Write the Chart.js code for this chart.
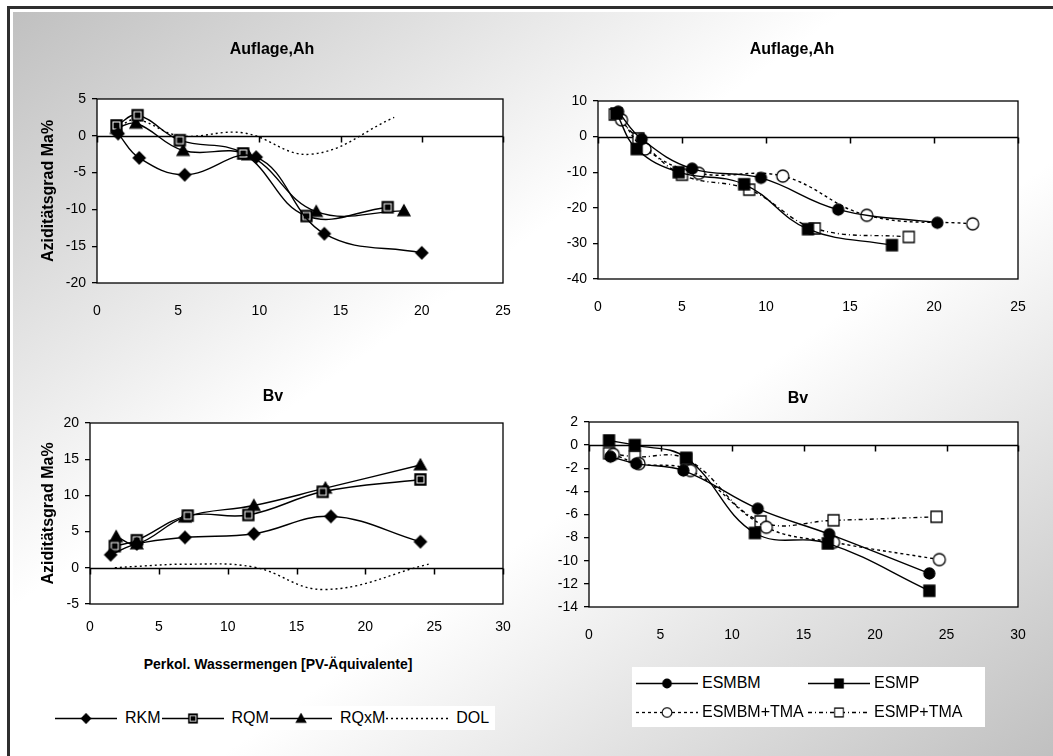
<!DOCTYPE html>
<html>
<head>
<meta charset="utf-8">
<script src="https://cdn.jsdelivr.net/npm/chart.js@4"></script>
<style>
    body { margin: 0; width: 1053px; height: 756px; overflow: hidden; background: #fff; font-family: "Liberation Sans", Arial, sans-serif; }
    #frame { position: absolute; left: 7px; top: 6px; width: 1100px; height: 800px; border-top: 3px solid #2e2e2e; border-left: 3px solid #2e2e2e; }
    #bg { position: absolute; left: 13px; top: 12px; width: 1040px; height: 744px;
          background: linear-gradient(to bottom right, #c0c0c0 0%, #fff 40%, #fff 60%, #c0c0c0 100%); }
    canvas.panel { position: absolute; }
    #xTitle { position: absolute; left: 100px; width: 356px; top: 656px; text-align: center; font-weight: bold; font-size: 14px; }
    .legend { position: absolute; background: #fff; font-size: 16px; }
    .legend .item { display: flex; align-items: center; }
    #legendLeft { left: 50px; top: 706px; width: 445px; height: 24px; display: flex; align-items: center; padding-left: 5px; box-sizing: border-box; }
    #legendLeft .item { margin-right: 1px; }
    #legendLeft .item span { margin-left: 8px; }
    #legendRight { left: 632px; top: 667px; width: 353px; height: 60px; display: grid; grid-template-columns: 172px 170px; padding: 2px 0 0 4px; box-sizing: border-box; }
    #legendRight .item { height: 28px; }
    #legendRight .item span { margin-left: 4px; }
</style>
</head>
<body>
<div id="frame"></div>
<div id="bg"></div>
<canvas class="panel" id="ahLeft" width="510" height="330" style="left:13px;top:12px"></canvas>
<canvas class="panel" id="ahRight" width="530" height="330" style="left:523px;top:12px"></canvas>
<canvas class="panel" id="bvLeft" width="510" height="310" style="left:13px;top:342px"></canvas>
<canvas class="panel" id="bvRight" width="530" height="310" style="left:523px;top:342px"></canvas>
<div id="xTitle">Perkol. Wassermengen [PV-Äquivalente]</div>
<div class="legend" id="legendLeft"></div>
<div class="legend" id="legendRight"></div>

<script>
// Auflage, Ah - linke Grafik
const ahRkmX  = [1.3, 2.6, 5.4, 9.8, 14.0, 20.0];
const ahRkmY  = [0.3, -3.0, -5.3, -2.9, -13.3, -15.9];
const ahRqmX  = [1.2, 2.5, 5.1, 9.0, 12.9, 17.9];
const ahRqmY  = [1.4, 2.8, -0.6, -2.4, -10.9, -9.7];
const ahRqxmX = [1.2, 2.4, 5.3, 9.3, 13.5, 18.9];
const ahRqxmY = [1.0, 1.7, -2.0, -2.6, -10.3, -10.2];
const ahDolX  = [1.2, 2.4, 5.1, 9.0, 13.2, 18.3];
const ahDolY  = [1.0, 2.2, 0.0, 0.4, -2.5, 2.5];

// Auflage, Ah - rechte Grafik
const ahEsmbmX    = [1.2, 2.6, 5.6, 9.7, 14.3, 20.2];
const ahEsmbmY    = [7.0, -0.7, -9.0, -11.6, -20.5, -24.2];
const ahEsmpX     = [1.1, 2.3, 4.8, 8.7, 12.5, 17.5];
const ahEsmpY     = [6.5, -3.5, -10.0, -13.4, -26.0, -30.5];
const ahEsmbmTmaX = [1.4, 2.8, 6.0, 11.0, 16.0, 22.3];
const ahEsmbmTmaY = [4.7, -3.5, -10.3, -11.1, -22.1, -24.5];
const ahEsmpTmaX  = [1.0, 2.4, 5.0, 9.0, 12.9, 18.5];
const ahEsmpTmaY  = [6.2, -0.5, -10.7, -14.9, -25.8, -28.2];

// Bv - linke Grafik
const bvRkmX  = [1.5, 3.4, 6.9, 11.9, 17.5, 24.0];
const bvRkmY  = [1.8, 3.3, 4.2, 4.7, 7.1, 3.6];
const bvRqmX  = [1.8, 3.4, 7.1, 11.5, 16.9, 24.0];
const bvRqmY  = [3.0, 3.8, 7.2, 7.3, 10.5, 12.2];
const bvRqxmX = [1.9, 3.4, 6.9, 11.9, 17.1, 24.0];
const bvRqxmY = [4.3, 3.3, 7.0, 8.6, 11.0, 14.2];
const bvDolX  = [1.8, 3.4, 7.0, 11.9, 17.0, 24.6];
const bvDolY  = [0.0, 0.2, 0.5, 0.1, -3.0, 0.5];

// Bv - rechte Grafik
const bvEsmbmX    = [1.5, 3.3, 6.6, 11.8, 16.8, 23.8];
const bvEsmbmY    = [-1.0, -1.6, -2.2, -5.5, -7.7, -11.1];
const bvEsmpX     = [1.4, 3.2, 6.8, 11.6, 16.7, 23.8];
const bvEsmpY     = [0.4, 0.0, -1.1, -7.6, -8.5, -12.6];
const bvEsmbmTmaX = [1.7, 3.5, 7.1, 12.4, 17.1, 24.5];
const bvEsmbmTmaY = [-0.8, -1.6, -2.2, -7.1, -8.4, -9.9];
const bvEsmpTmaX  = [1.4, 3.2, 6.8, 12.0, 17.1, 24.3];
const bvEsmpTmaY  = [-0.7, -1.0, -1.2, -6.6, -6.5, -6.2];

const titelAh = "Auflage,Ah";
const titelBv = "Bv";
const titelY = "Aziditätsgrad Ma%";
const FONT = '"Liberation Sans", Arial, sans-serif';

function marker(shape, fill, size) {
    const c = document.createElement("canvas");
    c.width = c.height = size + 4;
    const g = c.getContext("2d");
    const m = c.width / 2, h = size / 2;
    g.lineWidth = 1.3;
    g.strokeStyle = "#000";
    g.fillStyle = fill;
    g.beginPath();
    if (shape === "diamond") {
        g.moveTo(m, m - h); g.lineTo(m + h, m); g.lineTo(m, m + h); g.lineTo(m - h, m); g.closePath();
    } else if (shape === "square" || shape === "square2") {
        g.rect(m - h, m - h, size, size);
    } else if (shape === "triangle") {
        g.moveTo(m, m - h); g.lineTo(m + h, m + h * 0.8); g.lineTo(m - h, m + h * 0.8); g.closePath();
    } else {
        g.arc(m, m, h, 0, Math.PI * 2);
    }
    g.fill();
    g.stroke();
    if (shape === "square2") {
        g.strokeStyle = "#fff";
        g.lineWidth = 1;
        g.strokeRect(m - h + 2, m - h + 2, size - 4, size - 4);
    }
    return c;
}

const mkRkm = marker("diamond", "#000", 12);
const mkRqm = marker("square2", "#000", 11);
const mkRqxm = marker("triangle", "#000", 12);
const mkEsmbm = marker("circle", "#000", 11);
const mkEsmp = marker("square", "#000", 11);
const mkEsmbmTma = marker("circle", "#fff", 12);
const mkEsmpTma = marker("square", "#fff", 11);

function punkte(xs, ys) {
    return xs.map((x, i) => ({ x: x, y: ys[i] }));
}

function serie(label, xs, ys, mk, dash) {
    return {
        label: label,
        data: punkte(xs, ys),
        showLine: true,
        tension: 0.4,
        borderColor: "#000",
        borderWidth: 1.4,
        borderDash: dash || [],
        pointStyle: mk || false,
        pointRadius: mk ? 6 : 0,
        backgroundColor: "#000"
    };
}

// Rahmen, weisse Flaeche und Nulllinie mit Teilstrichen
const rahmen = {
    id: "rahmen",
    afterLayout(chart) {
        // schmale y-Achse ohne Titel: Beschriftung nicht abschneiden
        const y = chart.scales.y;
        if (!y.options.title.display) y.left = 0;
    },
    beforeDraw(chart) {
        const { ctx, chartArea: a } = chart;
        ctx.save();
        ctx.fillStyle = "#fff";
        ctx.fillRect(a.left, a.top, a.width, a.height);
        ctx.restore();
    },
    beforeDatasetsDraw(chart) {
        const { ctx, chartArea: a, scales: { x, y } } = chart;
        const y0 = Math.round(y.getPixelForValue(0)) + 0.5;
        ctx.save();
        ctx.strokeStyle = "#000";
        ctx.lineWidth = 1.5;
        ctx.beginPath();
        ctx.moveTo(a.left, y0);
        ctx.lineTo(a.right, y0);
        x.ticks.forEach(t => {
            const px = Math.round(x.getPixelForValue(t.value)) + 0.5;
            ctx.moveTo(px, y0);
            ctx.lineTo(px, y0 + 6);
        });
        ctx.stroke();
        ctx.lineWidth = 1.3;
        ctx.strokeRect(a.left, a.top, a.width, a.height);
        ctx.restore();
    }
};

function grafik(id, p, datasets) {
    return new Chart(document.getElementById(id), {
        type: "scatter",
        data: { datasets: datasets },
        options: {
            responsive: false,
            animation: false,
            events: [],
            layout: { padding: { left: p.padLeft, right: p.padRight, top: 0, bottom: 0 } },
            plugins: {
                legend: { display: false },
                tooltip: { enabled: false },
                title: {
                    display: true,
                    text: p.titel,
                    color: "#000",
                    font: { family: FONT, size: 16, weight: "bold" },
                    padding: { top: p.titleTop, bottom: p.titleBottom }
                }
            },
            scales: {
                x: {
                    type: "linear",
                    min: 0,
                    max: p.xMax,
                    ticks: { stepSize: 5, color: "#000", font: { family: FONT, size: 14 }, padding: p.xPad, maxRotation: 0 },
                    grid: { display: false, drawTicks: false },
                    border: { display: false },
                    afterFit: s => { s.height = p.xH; s.paddingLeft = 0; s.paddingRight = 0; }
                },
                y: {
                    min: p.yMin,
                    max: p.yMax,
                    ticks: { stepSize: p.yStep, color: "#000", font: { family: FONT, size: 14 }, padding: 6 },
                    grid: { drawOnChartArea: false, drawTicks: true, tickLength: 5, color: "#000", lineWidth: 1.3 },
                    border: { display: false },
                    title: {
                        display: !!p.yTitel,
                        text: p.yTitel || "",
                        color: "#000",
                        font: { family: FONT, size: 16, weight: "bold" },
                        padding: { top: p.yTitlePad || 0, bottom: 0 }
                    },
                    afterFit: s => { s.width = p.yW; s.paddingTop = 0; s.paddingBottom = 0; }
                }
            }
        },
        plugins: [rahmen]
    });
}

const chartAhLinks = grafik("ahLeft",
    { titel: titelAh, yTitel: titelY, yTitlePad: -1.6, xMax: 25, yMin: -20, yMax: 5, yStep: 5,
      padLeft: 28, yW: 56, xH: 59, xPad: 20, padRight: 20, titleTop: 28.4, titleBottom: 39.4 },
    [
        serie("RKM", ahRkmX, ahRkmY, mkRkm),
        serie("RQM", ahRqmX, ahRqmY, mkRqm),
        serie("RQxM", ahRqxmX, ahRqxmY, mkRqxm),
        serie("DOL", ahDolX, ahDolY, null, [2, 3])
    ]);

grafik("ahRight",
    { titel: titelAh, xMax: 25, yMin: -40, yMax: 10, yStep: 10,
      padLeft: 43, yW: 32, xH: 63, xPad: 20, padRight: 35, titleTop: 28.4, titleBottom: 41.4 },
    [
        serie("ESMBM", ahEsmbmX, ahEsmbmY, mkEsmbm),
        serie("ESMP", ahEsmpX, ahEsmpY, mkEsmp),
        serie("ESMBM+TMA", ahEsmbmTmaX, ahEsmbmTmaY, mkEsmbmTma, [3, 3]),
        serie("ESMP+TMA", ahEsmpTmaX, ahEsmpTmaY, mkEsmpTma, [4, 3, 1, 3])
    ]);

grafik("bvLeft",
    { titel: titelBv, yTitel: titelY, yTitlePad: -3.6, xMax: 30, yMin: -5, yMax: 20, yStep: 5,
      padLeft: 30, yW: 47, xH: 48, xPad: 15, padRight: 20, titleTop: 45.4, titleBottom: 16.4 },
    [
        serie("RKM", bvRkmX, bvRkmY, mkRkm),
        serie("RQM", bvRqmX, bvRqmY, mkRqm),
        serie("RQxM", bvRqxmX, bvRqxmY, mkRqxm),
        serie("DOL", bvDolX, bvDolY, null, [2, 3])
    ]);

const chartBvRechts = grafik("bvRight",
    { titel: titelBv, xMax: 30, yMin: -14, yMax: 2, yStep: 2,
      padLeft: 55, yW: 11, xH: 45, xPad: 20, padRight: 35, titleTop: 47.4, titleBottom: 13.4 },
    [
        serie("ESMBM", bvEsmbmX, bvEsmbmY, mkEsmbm),
        serie("ESMP", bvEsmpX, bvEsmpY, mkEsmp),
        serie("ESMBM+TMA", bvEsmbmTmaX, bvEsmbmTmaY, mkEsmbmTma, [3, 3]),
        serie("ESMP+TMA", bvEsmpTmaX, bvEsmpTmaY, mkEsmpTma, [4, 3, 1, 3])
    ]);

function legende(idElemento, chart) {
    const el = document.getElementById(idElemento);
    chart.data.datasets.forEach(ds => {
        const item = document.createElement("div");
        item.className = "item";
        const c = document.createElement("canvas");
        c.width = 62;
        c.height = 16;
        const g = c.getContext("2d");
        g.strokeStyle = "#000";
        g.lineWidth = 1.3;
        g.setLineDash(ds.borderDash || []);
        g.beginPath();
        g.moveTo(0, 8.5);
        g.lineTo(62, 8.5);
        g.stroke();
        if (ds.pointStyle) {
            const w = ds.pointStyle.width * 0.8;
            g.drawImage(ds.pointStyle, 31 - w / 2, 8.5 - w / 2, w, w);
        }
        const t = document.createElement("span");
        t.textContent = ds.label;
        item.appendChild(c);
        item.appendChild(t);
        el.appendChild(item);
    });
}

legende("legendLeft", chartAhLinks);
legende("legendRight", chartBvRechts);
</script>
</body>
</html>
